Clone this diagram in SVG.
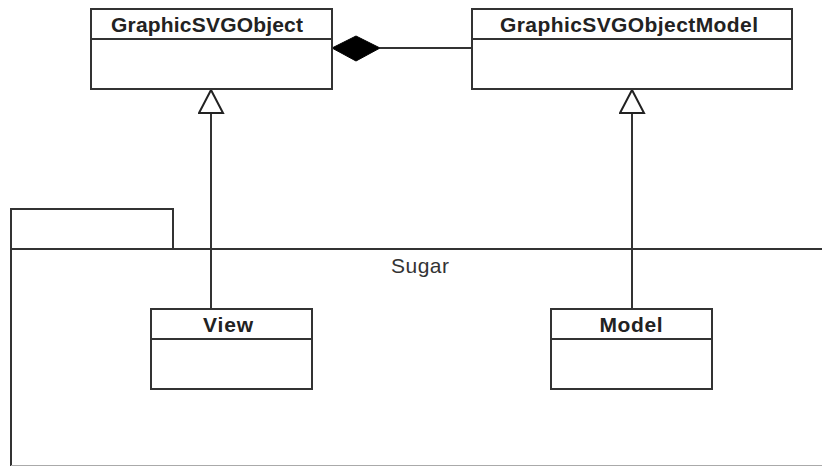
<svg xmlns="http://www.w3.org/2000/svg" width="822" height="466" viewBox="0 0 822 466">
<style>
.box{fill:#fff;stroke:#333;stroke-width:2}
.sep{stroke:#333;stroke-width:2}
.name{font-family:"Liberation Sans",Arial,sans-serif;font-weight:bold;font-size:21px;fill:#222;text-anchor:middle}
.pkg{fill:none;stroke:#333;stroke-width:2}
.lbl{font-family:"Liberation Sans",Arial,sans-serif;font-size:21px;fill:#333;text-anchor:middle}
.edge{fill:none;stroke:#333;stroke-width:2}
</style>
<defs>
<marker id="gen" markerUnits="userSpaceOnUse" markerWidth="28" markerHeight="28" refX="24" refY="13" orient="auto" viewBox="0 0 28 28">
<path d="M24,13 L1,1 L1,25 Z" fill="#fff" stroke="#222" stroke-width="2"/>
</marker>
</defs>
<rect width="822" height="466" fill="#fff"/>
<g id="Sugar">
<path class="pkg" d="M11,249 V209 H173 V249"/>
<path class="pkg" d="M11,466 V249 H823"/>
<line x1="11" y1="465.5" x2="822" y2="465.5" stroke="#aaa" stroke-width="1"/>
<text class="lbl" x="420" y="273" textLength="58">Sugar</text>
</g>
<g id="connectors">
<line class="edge" x1="380" y1="48" x2="472" y2="48"/>
<path d="M332,48 L356,36 L380,48 L356,61 Z" fill="#000" stroke="#000" stroke-width="1"/>
<line class="edge" x1="211" y1="308" x2="211" y2="90" marker-end="url(#gen)"/>
<line class="edge" x1="632" y1="308" x2="632" y2="90" marker-end="url(#gen)"/>
</g>
<g id="GraphicSVGObject">
<rect class="box" x="91" y="9" width="241" height="80"/>
<line class="sep" x1="91" y1="39" x2="332" y2="39"/>
<text class="name" x="207" y="32" textLength="192">GraphicSVGObject</text>
</g>
<g id="GraphicSVGObjectModel">
<rect class="box" x="472" y="9" width="320" height="80"/>
<line class="sep" x1="472" y1="39" x2="792" y2="39"/>
<text class="name" x="629" y="32" textLength="258">GraphicSVGObjectModel</text>
</g>
<g id="View">
<rect class="box" x="151" y="309" width="161" height="80"/>
<line class="sep" x1="151" y1="339" x2="312" y2="339"/>
<text class="name" x="228" y="332" textLength="50">View</text>
</g>
<g id="Model">
<rect class="box" x="551" y="309" width="161" height="80"/>
<line class="sep" x1="551" y1="339" x2="712" y2="339"/>
<text class="name" x="631" y="332" textLength="63">Model</text>
</g>
</svg>
